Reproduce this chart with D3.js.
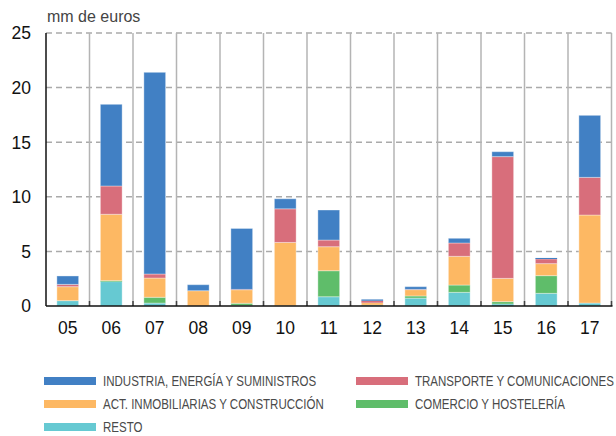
<!DOCTYPE html>
<html lang="es">
<head>
<meta charset="UTF-8">
<title>Inversión por sectores</title>
<script src="https://d3js.org/d3.v7.min.js"></script>
<style>
  body { margin: 0; background: #fff; }
  svg { font-family: "Liberation Sans", Arial, sans-serif; }
  .legend text { font-size: 15px; fill: #4a4a4a; }
</style>
</head>
<body>
<svg width="616" height="436"></svg>
<script>
// data (mm de euros)
const years = ["05","06","07","08","09","10","11","12","13","14","15","16","17"];
const industria  = [0.77, 7.48, 18.47, 0.55, 5.58, 0.92, 2.75, 0.12, 0.25, 0.43, 0.45, 0.10, 5.68];
const transporte = [0.21, 2.59, 0.37, 0.00, 0.05, 3.08, 0.61, 0.18, 0.03, 1.22, 11.15, 0.42, 3.45];
const actInmob   = [1.28, 6.08, 1.76, 1.40, 1.22, 5.80, 2.20, 0.22, 0.57, 2.63, 2.13, 1.10, 8.06];
const comercio   = [0.00, 0.09, 0.53, 0.00, 0.20, 0.02, 2.38, 0.03, 0.20, 0.67, 0.22, 1.62, 0.00];
const resto      = [0.49, 2.23, 0.27, 0.00, 0.05, 0.00, 0.85, 0.05, 0.72, 1.25, 0.18, 1.16, 0.27];
const yTicks = [0, 5, 10, 15, 20, 25];

const series = [
  {key: "resto", label: "RESTO", color: "#66c9d2", values: resto},
  {key: "comercio", label: "COMERCIO Y HOSTELERÍA", color: "#5fbd6a", values: comercio},
  {key: "act", label: "ACT. INMOBILIARIAS Y CONSTRUCCIÓN", color: "#fdb863", values: actInmob},
  {key: "transporte", label: "TRANSPORTE Y COMUNICACIONES", color: "#d86e7b", values: transporte},
  {key: "industria", label: "INDUSTRIA, ENERGÍA Y SUMINISTROS", color: "#4180c4", values: industria}
];

const rows = years.map((y, i) => {
  const r = {year: y};
  series.forEach(s => r[s.key] = s.values[i]);
  return r;
});

const svg = d3.select("svg");
const mLeft = 46, mRight = 611.5, mTop = 33, mBottom = 306;

const x = d3.scaleBand().domain(years).range([mLeft, mRight])
  .paddingInner(0.5).paddingOuter(0.25);
const y = d3.scaleLinear().domain([0, 25]).range([mBottom, mTop]);
const step = x.step();

// dashed horizontal grid
svg.append("g").selectAll("line")
  .data(yTicks.filter(d => d > 0))
  .join("line")
  .attr("x1", mLeft).attr("x2", mRight)
  .attr("y1", d => y(d)).attr("y2", d => y(d))
  .attr("stroke", "#aaa").attr("stroke-width", 1.5)
  .attr("stroke-dasharray", "6,4");

// vertical separators between years
svg.append("g").selectAll("line")
  .data(years)
  .join("line")
  .attr("x1", (d, i) => mLeft + (i + 1) * step)
  .attr("x2", (d, i) => mLeft + (i + 1) * step)
  .attr("y1", mTop).attr("y2", mBottom)
  .attr("stroke", "#b4b4b4").attr("stroke-width", 1.5);

// small ticks at the bottom
svg.append("g").selectAll("line")
  .data(years)
  .join("line")
  .attr("x1", (d, i) => mLeft + (i + 1) * step)
  .attr("x2", (d, i) => mLeft + (i + 1) * step)
  .attr("y1", mBottom - 5).attr("y2", mBottom)
  .attr("stroke", "#444").attr("stroke-width", 1.5);

// stacked bars
const stack = d3.stack().keys(series.map(s => s.key));
const stacked = stack(rows);

svg.append("g").selectAll("g")
  .data(stacked)
  .join("g")
  .attr("fill", (d, i) => series[i].color)
  .selectAll("rect")
  .data(d => d)
  .join("rect")
  .attr("x", d => x(d.data.year))
  .attr("width", x.bandwidth())
  .attr("y", d => y(d[1]))
  .attr("height", d => Math.max(0, y(d[0]) - y(d[1])))
  .attr("stroke", "rgba(255,255,255,0.35)")
  .attr("stroke-width", d => (y(d[0]) - y(d[1])) > 2 ? 1 : 0);

// axes
svg.append("line")
  .attr("x1", mLeft).attr("x2", mLeft).attr("y1", mTop).attr("y2", mBottom)
  .attr("stroke", "#111").attr("stroke-width", 1.5);
svg.append("line")
  .attr("x1", mLeft).attr("x2", mRight + 1).attr("y1", mBottom).attr("y2", mBottom)
  .attr("stroke", "#111").attr("stroke-width", 1.5);

svg.append("g").selectAll("text")
  .data(yTicks)
  .join("text")
  .attr("x", 31).attr("y", d => y(d))
  .attr("dy", "0.36em")
  .attr("text-anchor", "end")
  .attr("font-size", 17.5).attr("fill", "#111")
  .text(d => d);

svg.append("g").selectAll("text")
  .data(years)
  .join("text")
  .attr("x", d => x(d) + x.bandwidth() / 2)
  .attr("y", 334)
  .attr("text-anchor", "middle")
  .attr("font-size", 17.5).attr("fill", "#111")
  .text(d => d);

svg.append("text")
  .attr("x", 47).attr("y", 22)
  .attr("font-size", 16).attr("fill", "#444")
  .text("mm de euros");

// legend (condensed text, squeezed horizontally)
const legendOrder = ["industria", "transporte", "act", "comercio", "resto"];
const legend = svg.append("g").attr("class", "legend");
legendOrder.forEach((k, i) => {
  const s = series.find(d => d.key === k);
  const lx = i % 2 === 0 ? 44 : 356;
  const ly = 381 + Math.floor(i / 2) * 23;
  legend.append("rect")
    .attr("x", lx).attr("y", ly - 4).attr("width", 52).attr("height", 8)
    .attr("fill", s.color);
  legend.append("text")
    .attr("transform", `translate(${lx + 59},${ly + 5.3}) scale(0.768,1)`)
    .text(s.label);
});
</script>
</body>
</html>
